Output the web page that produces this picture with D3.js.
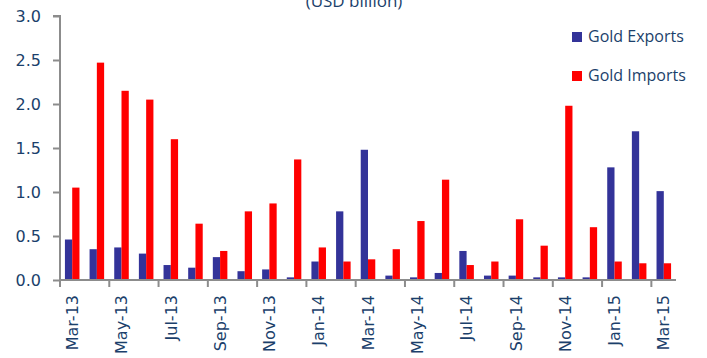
<!DOCTYPE html>
<html>
<head>
<meta charset="utf-8">
<script src="https://cdn.jsdelivr.net/npm/d3@7"></script>
<style>
  html, body { margin: 0; padding: 0; background: #fff; }
  svg { display: block; }
</style>
</head>
<body>
<svg id="chart" width="707" height="358"></svg>
<script>
const months = ["Mar-13","Apr-13","May-13","Jun-13","Jul-13","Aug-13","Sep-13","Oct-13","Nov-13","Dec-13",
  "Jan-14","Feb-14","Mar-14","Apr-14","May-14","Jun-14","Jul-14","Aug-14","Sep-14","Oct-14","Nov-14","Dec-14",
  "Jan-15","Feb-15","Mar-15"];
const goldExports = [0.46,0.35,0.37,0.30,0.17,0.14,0.26,0.10,0.12,0.03,
  0.21,0.78,1.48,0.05,0.03,0.08,0.33,0.05,0.05,0.03,0.03,0.03,
  1.28,1.69,1.01];
const goldImports = [1.05,2.47,2.15,2.05,1.60,0.64,0.33,0.78,0.87,1.37,
  0.37,0.21,0.235,0.35,0.67,1.14,0.17,0.21,0.69,0.39,1.98,0.60,
  0.21,0.19,0.19];
const seriesNames = ["Gold Exports","Gold Imports"];
const seriesColors = ["#333399","#FF0000"];
const yTicks = [0,0.5,1.0,1.5,2.0,2.5,3.0];
const unitLabel = "(USD billion)";

(function () {
const textColor = "#1B3F6B";
const axisColor = "#8C8C8C";
const svg = d3.select("#chart");

const mLeft = 60, mRight = 676, mTop = 16, mBottom = 280;

const x0 = d3.scaleBand().domain(months).range([mLeft, mRight]).paddingInner(0.41).paddingOuter(0.2);
const x1 = d3.scaleBand().domain(seriesNames).range([0, x0.bandwidth()]);
const xc = d3.scaleBand().domain(months).range([mLeft, mRight]);
const y = d3.scaleLinear().domain([0, 3]).range([mBottom, mTop]);

// Title (partially cut at top)
svg.append("text").attr("x", 354).attr("y", 7).attr("text-anchor", "middle")
  .attr("font-family", "Open Sans").attr("font-size", 17).attr("fill", textColor).text(unitLabel);

// Bars
const data = months.map((m, i) => ({ m, vals: [goldExports[i], goldImports[i]] }));
const g = svg.append("g");
data.forEach(d => {
  d.vals.forEach((v, j) => {
    g.append("rect")
      .attr("x", x0(d.m) + x1(seriesNames[j]))
      .attr("y", y(v))
      .attr("width", x1.bandwidth())
      .attr("height", y(0) - y(v))
      .attr("fill", seriesColors[j]);
  });
});

// Y axis
const yAxis = d3.axisLeft(y).tickValues(yTicks).tickFormat(d3.format(".1f")).tickSize(7).tickPadding(12);
const ya = svg.append("g").attr("transform", `translate(${mLeft},0)`).call(yAxis);
ya.select(".domain").attr("stroke", axisColor).attr("stroke-width", 2).attr("d", `M-7,${mTop}H0V${mBottom}`);
ya.selectAll(".tick line").attr("stroke", axisColor).attr("stroke-width", 2);
ya.selectAll(".tick text").attr("font-family", "DejaVu Sans").attr("font-size", 16).attr("fill", textColor).attr("dy", "0.36em");

// X axis
const xa = svg.append("g").attr("transform", `translate(0,${mBottom})`);
xa.append("line").attr("x1", mLeft).attr("x2", mRight).attr("y1", 0).attr("y2", 0)
  .attr("stroke", axisColor).attr("stroke-width", 2);
months.forEach((m, i) => {
  if (i % 2 === 0) {
    xa.append("line").attr("x1", xc(m)).attr("x2", xc(m)).attr("y1", 0).attr("y2", 7)
      .attr("stroke", axisColor).attr("stroke-width", 2);
    const cx = xc(m) + xc.bandwidth() / 2;
    xa.append("text")
      .attr("transform", `translate(${cx},15) rotate(-90)`)
      .attr("text-anchor", "end").attr("dy", "0.36em")
      .attr("font-family", "DejaVu Sans").attr("font-size", 16).attr("fill", textColor)
      .text(m);
  }
});

// Legend
seriesNames.forEach((s, i) => {
  const ly = 32 + i * 39;
  svg.append("rect").attr("x", 572).attr("y", ly).attr("width", 10).attr("height", 10).attr("fill", seriesColors[i]);
  svg.append("text").attr("x", 588).attr("y", ly + 10).attr("font-family", "Open Sans").attr("font-size", 16)
    .attr("fill", textColor).text(s);
});
})();
</script>
</body>
</html>
